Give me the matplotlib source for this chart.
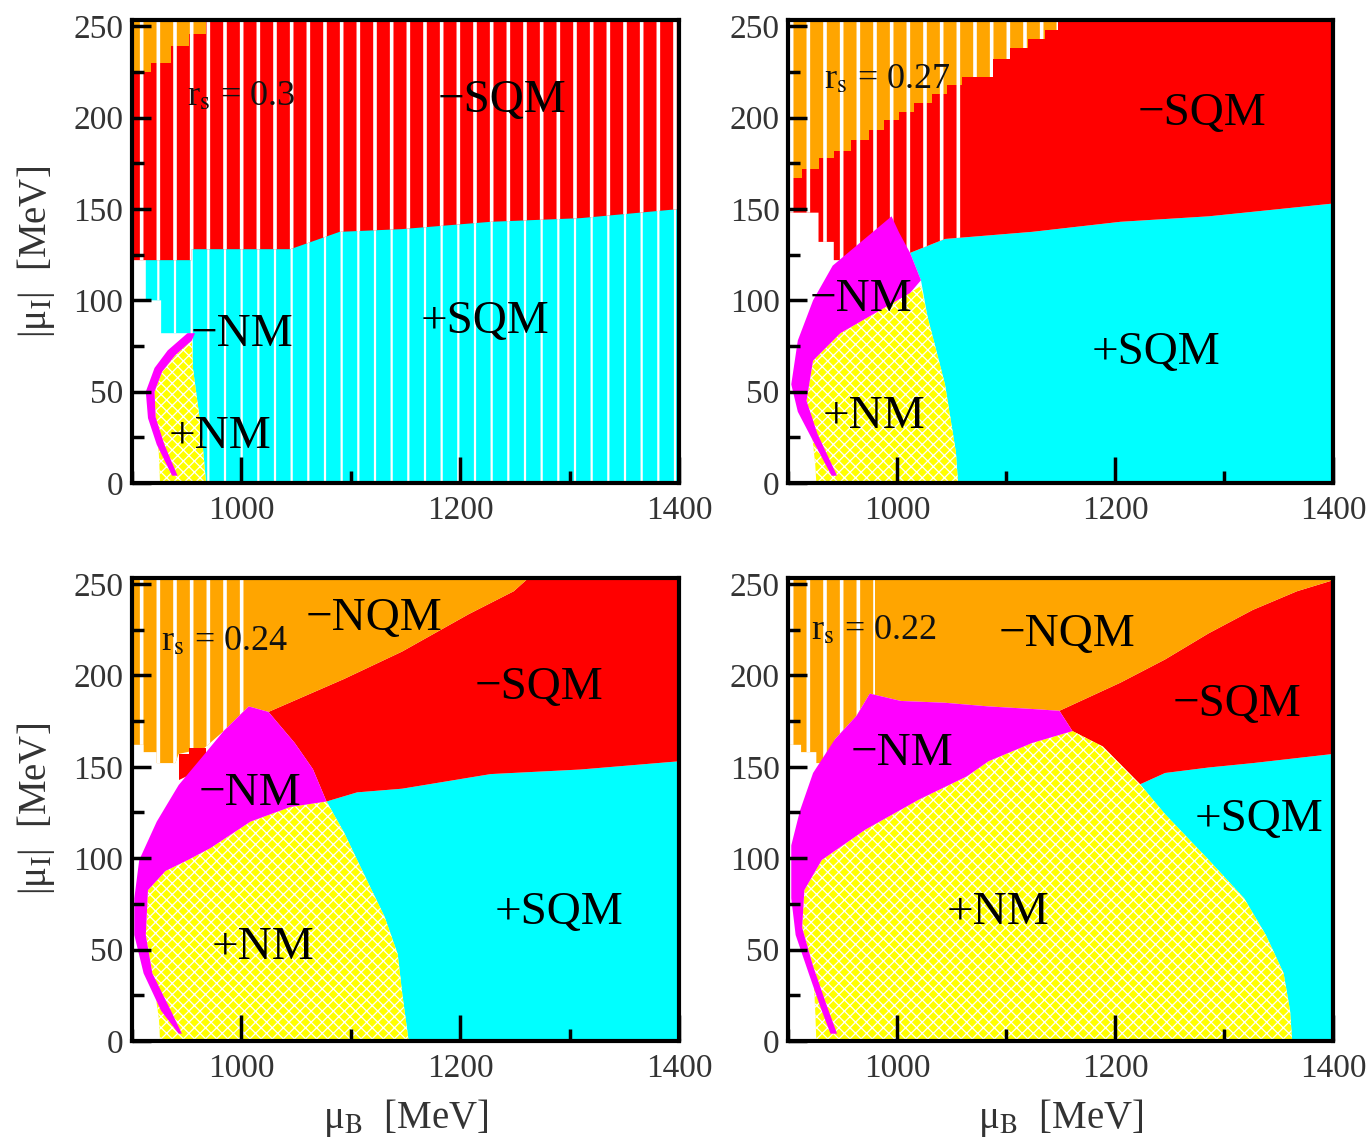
import matplotlib.pyplot as plt
from matplotlib.patches import Polygon, Rectangle
from matplotlib.ticker import MultipleLocator

plt.rcParams['font.family'] = ['Liberation Serif', 'DejaVu Serif']
plt.rcParams['mathtext.fontset'] = 'stix'
plt.rcParams['hatch.color'] = 'white'

RED = '#ff0000'
CYAN = '#00ffff'
YELLOW = '#ffff00'
MAGENTA = '#ff00ff'
ORANGE = '#ffa500'
TOP = 260  # polygons run past the top of the frame, the axes clip them


def staircase(edges, floors, top=TOP):
    pts = [(edges[0], top)]
    for x0, x1, f in zip(edges[:-1], edges[1:], floors):
        pts += [(x0, f), (x1, f)]
    pts.append((edges[-1], top))
    return pts


# phase regions, points are (mu_B, |mu_I|) in MeV

# r_s = 0.3
rs03_sqm_plus = [(968, 0), (1400, 0), (1400, 160), (913, 160), (913, 100), (927, 100),
                 (927, 82), (952, 82), (956, 63), (960, 45), (964, 27), (968, 0)]
rs03_sqm_minus = [(900, 122), (955, 122), (955, 128), (1045, 128), (1090, 137.5), (1147, 139),
                  (1228, 143), (1310, 145), (1400, 150), (1400, TOP), (900, TOP)]
rs03_nqm_edges = [900, 918, 936, 952, 968]
rs03_nqm_floor = [225, 230, 239, 246]
rs03_nm_plus = [(955, 78), (940, 70), (928, 61), (921, 50), (922, 36), (925, 15), (926, 0),
                (968, 0), (964, 27), (960, 45), (956, 63)]
rs03_nm_minus = [(951, 82), (933, 72.6), (921, 63), (913, 50), (915, 35.5), (923, 21), (937, 4),
                 (942, 4), (930, 21), (922, 36), (921, 50), (928, 61), (940, 70), (955, 78), (958, 82)]

# r_s = 0.27
rs027_sqm_plus = [(1056, 0), (1400, 0), (1400, 153), (1286, 146), (1205, 143), (1124, 137.5),
                  (1044, 133.6), (1012, 126), (1022, 111), (1028, 91), (1036, 72.6), (1044, 54),
                  (1049, 35.5), (1054, 17)]
rs027_sqm_minus = [(900, 148), (928, 148), (928, 132), (942, 132), (942, 122), (1005, 122),
                   (1012, 126), (1044, 133.6), (1124, 137.5), (1205, 143), (1286, 146), (1400, 153),
                   (1400, TOP), (900, TOP)]
rs027_nqm_edges = [900, 913, 928, 942, 958, 974, 988, 1002, 1016, 1032, 1046, 1060, 1088, 1104,
                   1120, 1136, 1148]
rs027_nqm_floor = [167, 172, 178, 182, 188, 193, 198.5, 203, 208, 213, 218, 222, 232, 238, 243, 248]
rs027_nm_plus = [(1022, 108), (1012, 104), (980, 93), (948, 82), (923, 67), (917, 45), (922, 27),
                 (925, 10), (926, 0), (1056, 0), (1054, 17), (1049, 35.5), (1044, 54), (1036, 72.6),
                 (1028, 91)]
rs027_nm_minus = [(995, 146), (963, 130), (941, 119), (923, 100), (909, 78), (903, 54), (909, 39),
                  (923, 23), (940, 4), (945, 4), (927, 27), (917, 45), (923, 67), (948, 82), (980, 93),
                  (1012, 104), (1022, 111), (1012, 126), (1002, 137)]

# r_s = 0.24
rs024_sqm_plus = [(1153, 0), (1400, 0), (1400, 153), (1310, 148.5), (1228, 146), (1147, 138),
                  (1106, 136), (1078, 131), (1094, 114), (1114, 89), (1131, 68), (1143, 47.5),
                  (1147, 26.6)]
rs024_sqm_minus = [(1025, 180), (1094, 198), (1147, 213), (1208, 233.5), (1249, 246), (1275, TOP),
                   (1400, TOP), (1400, 153), (1310, 148.5), (1228, 146), (1147, 138), (1106, 136),
                   (1078, 131), (1065.6, 148.7), (1049, 163)]
rs024_sqm_minus_spot = [(943, 143), (943, 157), (952, 157), (952, 160), (968, 160), (968, 150)]
rs024_nqm_minus = [(900, TOP), (1275, TOP), (1249, 246), (1208, 233.5), (1147, 213), (1094, 198),
                   (1025, 180), (1007, 183), (984, 169.5), (966, 160), (943, 157), (940, 152),
                   (923, 152), (923, 158), (911, 158), (911, 162), (900, 162)]
rs024_nm_plus = [(1078, 131), (1045, 128), (1008.6, 120), (972, 105.5), (951.5, 99), (931, 93),
                 (915, 82.5), (913, 58), (919, 37), (925, 12), (926, 0), (1153, 0), (1147, 26.6),
                 (1143, 47.5), (1131, 68), (1114, 89), (1094, 114)]
rs024_nm_minus = [(1007, 183), (984, 169.5), (964, 155), (943, 140), (923, 120), (907, 99),
                  (902.5, 78), (902.5, 58), (911, 37), (927, 16.5), (943, 4), (946, 4), (936, 16.5),
                  (919, 37), (913, 58), (915, 82.5), (931, 93), (951.5, 99), (972, 105.5),
                  (1008.6, 120), (1045, 128), (1078, 131), (1065.6, 148.7), (1049, 163), (1025, 180)]

# r_s = 0.22
rs022_sqm_plus = [(1362.5, 0), (1400, 0), (1400, 157), (1326.5, 152), (1286, 149.6), (1246, 146.6),
                  (1223, 140.4), (1246, 124), (1286, 99), (1318.5, 78), (1338.6, 57.7),
                  (1354.7, 37), (1360.6, 16.5)]
rs022_sqm_minus = [(1149, 180.6), (1205, 196), (1246, 208.7), (1286, 223), (1326.5, 235.8),
                   (1367, 246), (1400, 252), (1400, 157), (1326.5, 152), (1286, 149.6),
                   (1246, 146.6), (1223, 140.4), (1189, 161), (1161, 169.5)]
rs022_nqm_minus = [(900, TOP), (1400, TOP), (1400, 252), (1367, 246), (1326.5, 235.8), (1286, 223),
                   (1246, 208.7), (1205, 196), (1149, 180.6), (1124, 181.6), (1084, 183),
                   (1044, 185), (1003.5, 186), (975, 190), (963, 178), (943, 165), (936, 152),
                   (926, 152), (926, 158), (912, 158), (912, 162), (900, 162)]
rs022_nm_plus = [(1161, 169.5), (1124, 163), (1084, 153), (1064, 144.7), (1020, 132), (971, 115.6),
                 (931, 99), (915, 82.5), (913, 62), (923, 41), (925, 16), (926, 0), (1362.5, 0),
                 (1360.6, 16.5), (1354.7, 37), (1338.6, 57.7), (1318.5, 78), (1286, 99),
                 (1246, 124), (1223, 140.4), (1189, 161)]
rs022_nm_minus = [(975, 190), (963, 178), (943, 165), (923, 146.6), (911, 126), (903, 107), (903, 78),
                  (907, 58), (919, 37), (931, 16.5), (939, 4), (945, 4), (935, 20.4), (923, 41),
                  (913, 62), (915, 82.5), (931, 99), (971, 115.6), (1020, 132), (1064, 144.7),
                  (1084, 153), (1124, 163), (1161, 169.5), (1149, 180.6), (1124, 181.6),
                  (1084, 183), (1044, 185), (1003.5, 186)]

RS_VALUES = ['0.3', '0.27', '0.24', '0.22']

# (region, colour, hatch) in drawing order, per panel
panels = [
    [(rs03_sqm_plus, CYAN, None), (rs03_sqm_minus, RED, None),
     (staircase(rs03_nqm_edges, rs03_nqm_floor), ORANGE, None),
     (rs03_nm_plus, YELLOW, 'xxx'), (rs03_nm_minus, MAGENTA, None)],
    [(rs027_sqm_plus, CYAN, None), (rs027_sqm_minus, RED, None),
     (staircase(rs027_nqm_edges, rs027_nqm_floor), ORANGE, None),
     (rs027_nm_plus, YELLOW, 'xxx'), (rs027_nm_minus, MAGENTA, None)],
    [(rs024_sqm_plus, CYAN, None), (rs024_sqm_minus, RED, None),
     (rs024_nqm_minus, ORANGE, None), (rs024_sqm_minus_spot, RED, None),
     (rs024_nm_plus, YELLOW, 'xxx'), (rs024_nm_minus, MAGENTA, None)],
    [(rs022_sqm_plus, CYAN, None), (rs022_sqm_minus, RED, None),
     (rs022_nqm_minus, ORANGE, None),
     (rs022_nm_plus, YELLOW, 'xxx'), (rs022_nm_minus, MAGENTA, None)],
]
# grid sampling leaves white columns in the upper-left of each diagram
stripe_limit = [[1400, 1400, 1400, 0, 0], [0, 1060, 1150, 0, 0], [0, 0, 1010, 0, 0, 0],
                [0, 0, 980, 0, 0]]
stripe_width = [[1.6, 2.6, 2.6, 0, 0], [0, 2.6, 2.6, 0, 0], [0, 0, 2.6, 0, 0, 0], [0, 0, 2.6, 0, 0]]

# label text and baseline position (mu_B, |mu_I|)
labels = [
    [('\u2212SQM', 1238, 203), ('+SQM', 1223, 82), ('\u2212NM', 1001, 75), ('+NM', 981, 19)],
    [('\u2212SQM', 1280, 196), ('\u2212NM', 967, 94), ('+SQM', 1238, 65), ('+NM', 979, 30)],
    [('\u2212NQM', 1121, 225), ('\u2212SQM', 1272, 187), ('\u2212NM', 1008, 129),
     ('+NM', 1020, 45), ('+SQM', 1290, 64)],
    [('\u2212NQM', 1156, 216), ('\u2212SQM', 1312, 178), ('\u2212NM', 1005, 151),
     ('+SQM', 1332, 115), ('+NM', 1093, 64)],
]
rs_pos = [(951, 207), (933, 216), (927, 214), (921, 220)]

fig = plt.figure(figsize=(13.69, 11.47), dpi=100)
boxes = [(0.0961, 0.5789, 0.4000, 0.4037), (0.5756, 0.5789, 0.3981, 0.4037),
         (0.0961, 0.0924, 0.4000, 0.4041), (0.5756, 0.0924, 0.3981, 0.4041)]

for i, box in enumerate(boxes):
    ax = fig.add_axes(box)
    for j, (pts, col, hatch) in enumerate(panels[i]):
        poly = Polygon(pts, closed=True, facecolor=col, edgecolor='white', lw=0, hatch=hatch)
        if hatch and hasattr(poly, 'set_hatch_linewidth'):
            poly.set_hatch_linewidth(0.9)
        ax.add_patch(poly)
        lim = stripe_limit[i][j]
        if lim:
            st = Rectangle((900, 0), lim - 900, TOP, facecolor='none', edgecolor='white', lw=0,
                           hatch='|')
            if hasattr(st, 'set_hatch_linewidth'):
                st.set_hatch_linewidth(stripe_width[i][j])
            ax.add_patch(st)
            st.set_clip_path(poly)

    for txt, x, y in labels[i]:
        ax.text(x, y, txt, fontsize=34, ha='center', va='baseline', color='black')
    ax.text(rs_pos[i][0], rs_pos[i][1], 'r$_{\\rm s}$ = ' + RS_VALUES[i], fontsize=26,
            ha='left', va='baseline', color='#111111')

    ax.set_xlim(900, 1400)
    ax.set_ylim(0, 253.5)
    ax.xaxis.set_major_locator(MultipleLocator(200))
    ax.xaxis.set_minor_locator(MultipleLocator(100))
    ax.yaxis.set_major_locator(MultipleLocator(50))
    ax.yaxis.set_minor_locator(MultipleLocator(25))
    ax.tick_params(which='both', direction='in', top=False, right=False, width=2.5,
                   labelsize=24, labelcolor='#333333')
    ax.tick_params(axis='x', which='major', length=19, pad=9)
    ax.tick_params(axis='x', which='minor', length=8.5)
    ax.tick_params(axis='y', which='major', length=14, pad=6)
    ax.tick_params(axis='y', which='minor', length=8.5)
    for sp in ax.spines.values():
        sp.set_linewidth(3)
        sp.set_zorder(5)

    if i % 2 == 0:
        ax.set_ylabel('|\u03bc$_{\\rm I}$|  [MeV]', fontsize=28, color='#333333', labelpad=12)
    if i >= 2:
        ax.set_xlabel('\u03bc$_{\\rm B}$  [MeV]', fontsize=28, color='#333333', labelpad=9)

fig.savefig('out.png', dpi=100)
